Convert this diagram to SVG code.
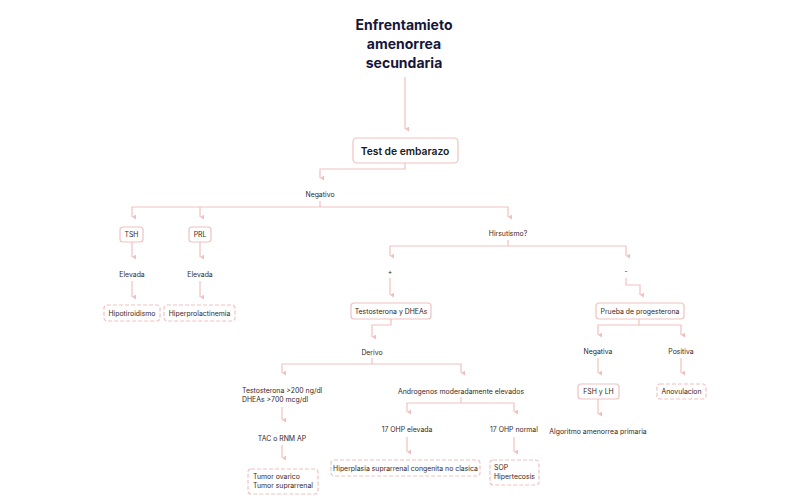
<svg xmlns="http://www.w3.org/2000/svg" width="810" height="502" viewBox="0 0 810 502">
<defs>
<marker id="ah" viewBox="0 0 6 6" refX="3" refY="5" markerWidth="5" markerHeight="5" orient="auto-start-reverse" markerUnits="userSpaceOnUse">
<path d="M0,0 L3,5 L6,0 Z" fill="#f0c0c0"/>
</marker>
<style>
.c{fill:none;stroke:#f0c2c2;stroke-width:1.2;marker-end:url(#ah)}
.l{fill:none;stroke:#f0c2c2;stroke-width:1.2}
.b{fill:#fff;stroke:#f0c2c2;stroke-width:1.2}
.d{fill:#fff;stroke:#f0c2c2;stroke-width:1.2;stroke-dasharray:4 2}
.t{font-family:Inter,"Noto Sans",sans-serif;font-size:6.9px;fill:#3a1f24;text-anchor:middle}
.tl{font-family:Inter,"Noto Sans",sans-serif;font-size:6.9px;fill:#3a1f24}
.ti{font-family:Inter,"Noto Sans",sans-serif;font-size:14px;font-weight:700;fill:#16163a;text-anchor:middle}
.h{font-family:Inter,"Noto Sans",sans-serif;font-size:10.3px;font-weight:600;fill:#1a1a1a;text-anchor:middle}
</style>
</defs>
<rect width="810" height="502" fill="#fff"/>
<g id="connectors">
<path class="c" d="M405,77 V129"/>
<path class="c" d="M405,163 V169 H320 V178"/>
<path class="l" d="M320,201 V207"/>
<path class="c" d="M320,207 H132 V217"/>
<path class="c" d="M200,207 V217"/>
<path class="c" d="M320,207 H508 V217"/>
<path class="c" d="M132,242 V257"/>
<path class="c" d="M200,242 V257"/>
<path class="c" d="M132,281 V297"/>
<path class="c" d="M200,281 V297"/>
<path class="l" d="M508,240 V246"/>
<path class="c" d="M508,246 H390 V256"/>
<path class="c" d="M508,246 H626 V256"/>
<path class="c" d="M390,278 V295"/>
<path class="c" d="M626,278 V285 H640 V295"/>
<path class="c" d="M391,319 V325 H372 V337"/>
<path class="l" d="M372,358 V364"/>
<path class="c" d="M372,364 H282 V373"/>
<path class="c" d="M372,364 H461 V373"/>
<path class="c" d="M282,407 V420"/>
<path class="c" d="M282,445 V458"/>
<path class="l" d="M461,397 V403"/>
<path class="c" d="M461,403 H407 V412"/>
<path class="c" d="M461,403 H514 V412"/>
<path class="c" d="M407,437 V452"/>
<path class="c" d="M514,437 V452"/>
<path class="c" d="M639,319 V325 H598 V335"/>
<path class="c" d="M639,325 H681 V335"/>
<path class="c" d="M598,358 V373"/>
<path class="c" d="M681,358 V373"/>
<path class="c" d="M598,399 V414"/>
</g>
<g id="title">
<text class="ti" x="404" y="30">Enfrentamieto</text>
<text class="ti" x="404" y="49">amenorrea</text>
<text class="ti" x="404" y="68">secundaria</text>
</g>
<g id="test"><rect class="b" x="353" y="138" width="105" height="25" rx="4"/><text class="h" x="405" y="154.5">Test de embarazo</text></g>
<g id="negativo"><text class="t" x="320" y="196.5">Negativo</text></g>
<g id="tsh"><rect class="b" x="120" y="227" width="23" height="15" rx="3"/><text class="t" x="131.5" y="237">TSH</text></g>
<g id="prl"><rect class="b" x="189" y="227" width="22" height="15" rx="3"/><text class="t" x="200" y="237">PRL</text></g>
<g id="elevada1"><text class="t" x="132" y="276.5">Elevada</text></g>
<g id="elevada2"><text class="t" x="200" y="276.5">Elevada</text></g>
<g id="hipotiroidismo"><rect class="d" x="104" y="305" width="56" height="16" rx="3"/><text class="t" x="132" y="315.5">Hipotiroidismo</text></g>
<g id="hiperprolactinemia"><rect class="d" x="164" y="305" width="71" height="16" rx="3"/><text class="t" x="199.5" y="315.5">Hiperprolactinemia</text></g>
<g id="hirsutismo"><text class="t" x="508" y="235.5">Hirsutismo?</text></g>
<g id="mas"><text class="t" x="390" y="273.5">+</text></g>
<g id="menos"><text class="t" x="626" y="273.5">-</text></g>
<g id="testosterona"><rect class="b" x="351" y="303" width="80" height="16" rx="3"/><text class="t" x="391" y="313.5">Testosterona y DHEAs</text></g>
<g id="progesterona"><rect class="b" x="596" y="303" width="88" height="16" rx="3"/><text class="t" x="640" y="313.5">Prueba de progesterona</text></g>
<g id="derivo"><text class="t" x="372" y="354.5">Derivo</text></g>
<g id="niveles"><text class="tl" x="242" y="393">Testosterona &gt;200 ng/dl</text><text class="tl" x="242" y="402">DHEAs &gt;700 mcg/dl</text></g>
<g id="tac"><text class="t" x="282" y="440.5">TAC o RNM AP</text></g>
<g id="tumor"><rect class="d" x="248" y="469" width="70" height="25" rx="3"/><text class="tl" x="253" y="479">Tumor ovarico</text><text class="tl" x="253" y="488">Tumor suprarrenal</text></g>
<g id="androgenos"><text class="t" x="461" y="393.5">Androgenos moderadamente elevados</text></g>
<g id="ohp-elevada"><text class="t" x="407" y="431.5">17 OHP elevada</text></g>
<g id="ohp-normal"><text class="t" x="514" y="431.5">17 OHP normal</text></g>
<g id="hiperplasia"><rect class="d" x="331" y="460" width="149" height="16" rx="3"/><text class="t" x="405.5" y="470.5">Hiperplasia suprarrenal congenita no clasica</text></g>
<g id="sop"><rect class="d" x="490" y="460" width="49" height="25" rx="3"/><text class="tl" x="494" y="470">SOP</text><text class="tl" x="494" y="479">Hipertecosis</text></g>
<g id="negativa"><text class="t" x="598" y="353.5">Negativa</text></g>
<g id="positiva"><text class="t" x="681" y="353.5">Positiva</text></g>
<g id="fsh"><rect class="b" x="578" y="384" width="41" height="15" rx="3"/><text class="t" x="598.5" y="394">FSH y LH</text></g>
<g id="anovulacion"><rect class="d" x="657" y="384" width="49" height="15" rx="3"/><text class="t" x="681.5" y="394">Anovulacion</text></g>
<g id="algoritmo"><text class="t" x="598" y="433.5">Algoritmo amenorrea primaria</text></g>
</svg>
